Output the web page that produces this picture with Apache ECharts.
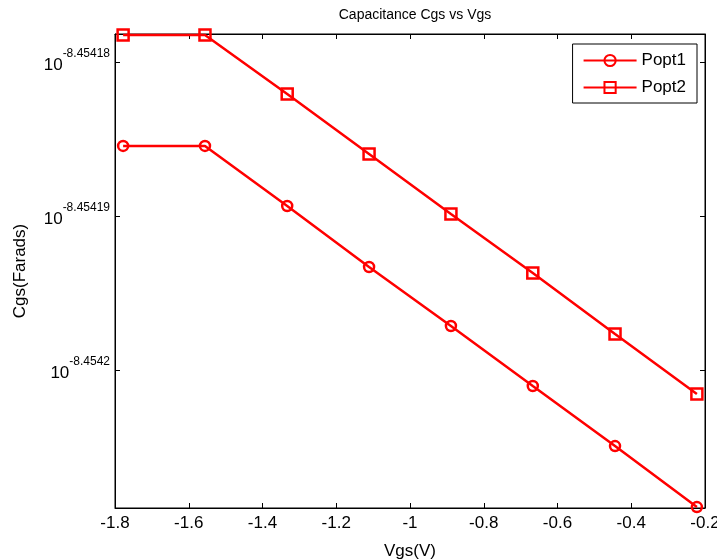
<!DOCTYPE html>
<html><head><meta charset="utf-8">
<script src="https://cdn.jsdelivr.net/npm/echarts@6/dist/echarts.min.js"></script>
<style>html,body{margin:0;padding:0;background:#fff}#c{width:717px;height:560px}</style>
</head><body><div id="c"></div>
<script>
// x values (Vgs, V)
const vgs = [-1.778, -1.556, -1.333, -1.111, -0.889, -0.667, -0.444, -0.222];
// log10(Cgs) values
const popt1 = [-8.45418545, -8.45418545, -8.45418935, -8.45419331, -8.45419714, -8.45420104, -8.45420494, -8.4542089];
const popt2 = [-8.45417825, -8.45417825, -8.45418208, -8.45418597, -8.45418987, -8.4541937, -8.45419766, -8.45420156];
const yTicks = [-8.4542, -8.45419, -8.45418];
const xTicks = [-1.8, -1.6, -1.4, -1.2, -1, -0.8, -0.6, -0.4, -0.2];

const font = 'Liberation Sans, Arial, sans-serif';
const yMin = -8.45420896, yMax = -8.45417818;
const chart = echarts.init(document.getElementById('c'));
const mk = (name, vals, sym) => ({
  name, type: 'line', data: vgs.map((x, i) => [x, vals[i]]),
  symbol: sym, symbolSize: sym === 'rect' ? 11 : 10,
  lineStyle: { color: '#ff0000', width: 2.5 },
  itemStyle: { color: 'rgba(255,255,255,0)', borderColor: '#ff0000', borderWidth: 2.5 },
  color: '#ff0000', animation: false, z: 3
});
const axisCommon = { axisLine: { show: true, onZero: false, lineStyle: { color: '#000', width: 1 } }, splitLine: { show: false } };
chart.setOption({
  animation: false,
  title: { text: 'Capacitance Cgs vs Vgs', left: 410, textAlign: 'center', top: 3,
    textStyle: { fontFamily: font, fontSize: 14, fontWeight: 'normal', color: '#000' } },
  grid: { left: 115, right: 12, top: 34, bottom: 52, containLabel: false, outerBoundsMode: 'none',
    show: true, borderColor: '#000', borderWidth: 1, backgroundColor: 'transparent' },
  legend: {
    right: 20, top: 44, orient: 'vertical', itemWidth: 53, itemHeight: 14, itemGap: 10,
    borderColor: '#000', borderWidth: 1, borderRadius: 0, padding: [8, 11, 7, 10],
    backgroundColor: '#fff',
    textStyle: { fontFamily: font, fontSize: 17, color: '#000' },
    data: ['Popt1', 'Popt2']
  },
  xAxis: [
    Object.assign({ type: 'value', min: -1.8, max: -0.2, interval: 0.2,
      name: 'Vgs(V)', nameLocation: 'middle', nameGap: 35,
      nameTextStyle: { fontFamily: font, fontSize: 17, color: '#000' },
      axisTick: { inside: true, length: 5, lineStyle: { color: '#000' } },
      axisLabel: { fontFamily: font, fontSize: 17, color: '#000', margin: 7,
        formatter: v => String(parseFloat(v.toFixed(2))) } }, axisCommon),
    Object.assign({ type: 'value', position: 'top', min: -1.8, max: -0.2, interval: 0.2,
      axisTick: { inside: true, length: 5, lineStyle: { color: '#000' } },
      axisLabel: { show: false } }, axisCommon)
  ],
  yAxis: [
    Object.assign({ type: 'value', position: 'left', min: yMin, max: yMax,
      name: 'Cgs(Farads)', nameLocation: 'middle', nameGap: 86,
      nameTextStyle: { fontFamily: font, fontSize: 17, color: '#000' },
      axisTick: { inside: true, length: 5, customValues: yTicks, lineStyle: { color: '#000' } },
      axisLabel: { customValues: yTicks, margin: 5,
        formatter: v => '{b|10}{s|' + String(parseFloat(v.toFixed(5))) + '}',
        rich: {
          b: { fontFamily: font, fontSize: 17, color: '#000', padding: [7, 0, 0, 0] },
          s: { fontFamily: font, fontSize: 12, color: '#000', padding: [0, 0, 16, 0] }
        } } }, axisCommon),
    Object.assign({ type: 'value', position: 'right', min: yMin, max: yMax,
      axisTick: { show: true, inside: true, length: 5, customValues: yTicks, lineStyle: { color: '#000' } },
      axisLabel: { show: false, customValues: yTicks } }, axisCommon)
  ],
  series: [mk('Popt1', popt1, 'circle'), mk('Popt2', popt2, 'rect')]
});
</script></body></html>
